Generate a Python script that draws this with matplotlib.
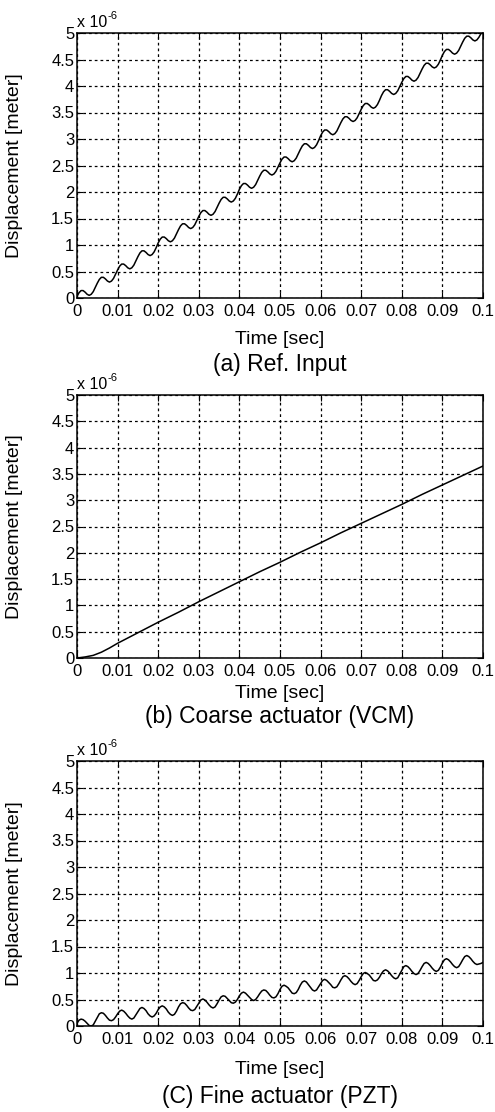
import numpy as np
import matplotlib
matplotlib.use("Agg")
import matplotlib.pyplot as plt

plt.rcParams['font.family'] = ['Liberation Sans', 'DejaVu Sans']

# ---------------- data (displacement in units of 1e-6 m) ----------------
time_s = np.linspace(0.0, 0.1, 201)   # sample times, 0.5 ms spacing

ref_input = [
    0.03, 0.10, 0.14, 0.14, 0.11, 0.07, 0.05, 0.07, 0.12, 0.20,
    0.28, 0.35, 0.39, 0.39, 0.36, 0.32, 0.30, 0.32, 0.37, 0.45,
    0.53, 0.60, 0.64, 0.64, 0.61, 0.57, 0.55, 0.57, 0.62, 0.70,
    0.78, 0.85, 0.89, 0.89, 0.86, 0.82, 0.80, 0.82, 0.87, 0.95,
    1.04, 1.11, 1.15, 1.15, 1.12, 1.08, 1.06, 1.08, 1.13, 1.21,
    1.29, 1.36, 1.40, 1.40, 1.37, 1.33, 1.31, 1.33, 1.38, 1.46,
    1.54, 1.61, 1.65, 1.65, 1.62, 1.58, 1.56, 1.58, 1.63, 1.71,
    1.79, 1.86, 1.90, 1.90, 1.87, 1.83, 1.81, 1.83, 1.88, 1.96,
    2.05, 2.12, 2.16, 2.16, 2.13, 2.09, 2.07, 2.09, 2.14, 2.22,
    2.30, 2.37, 2.41, 2.41, 2.38, 2.34, 2.32, 2.34, 2.39, 2.47,
    2.55, 2.62, 2.66, 2.66, 2.63, 2.59, 2.57, 2.59, 2.64, 2.72,
    2.80, 2.87, 2.91, 2.91, 2.88, 2.84, 2.82, 2.84, 2.89, 2.97,
    3.06, 3.13, 3.17, 3.17, 3.14, 3.10, 3.08, 3.10, 3.15, 3.23,
    3.31, 3.38, 3.42, 3.42, 3.39, 3.35, 3.33, 3.35, 3.40, 3.48,
    3.56, 3.63, 3.67, 3.67, 3.64, 3.60, 3.58, 3.60, 3.65, 3.73,
    3.82, 3.89, 3.93, 3.93, 3.90, 3.86, 3.84, 3.86, 3.91, 3.99,
    4.07, 4.14, 4.18, 4.18, 4.15, 4.11, 4.09, 4.11, 4.16, 4.24,
    4.32, 4.39, 4.43, 4.43, 4.40, 4.36, 4.34, 4.36, 4.41, 4.49,
    4.58, 4.65, 4.69, 4.69, 4.66, 4.62, 4.60, 4.62, 4.67, 4.75,
    4.83, 4.90, 4.94, 4.94, 4.91, 4.87, 4.85, 4.87, 4.92, 4.99,
    5.02,
]

vcm_time = [0.0, 0.002, 0.004, 0.006, 0.008, 0.01, 0.015, 0.02, 0.025, 0.03,
            0.035, 0.04, 0.045, 0.05, 0.055, 0.06, 0.065, 0.07, 0.075, 0.08,
            0.085, 0.09, 0.095, 0.1]
vcm_disp = [0.0, 0.02, 0.05, 0.11, 0.19, 0.28, 0.48, 0.68, 0.87, 1.07,
            1.26, 1.45, 1.64, 1.82, 2.01, 2.19, 2.38, 2.56, 2.74, 2.92,
            3.11, 3.29, 3.47, 3.65]

pzt_disp = [
    0.05, 0.11, 0.13, 0.12, 0.09, 0.05, 0.01, 0.00, 0.02, 0.09,
    0.16, 0.23, 0.25, 0.24, 0.20, 0.15, 0.11, 0.10, 0.12, 0.17,
    0.23, 0.28, 0.30, 0.28, 0.24, 0.19, 0.15, 0.13, 0.15, 0.21,
    0.27, 0.33, 0.35, 0.33, 0.29, 0.23, 0.19, 0.17, 0.19, 0.24,
    0.31, 0.36, 0.38, 0.36, 0.32, 0.26, 0.22, 0.20, 0.22, 0.28,
    0.36, 0.42, 0.44, 0.43, 0.39, 0.34, 0.30, 0.29, 0.31, 0.37,
    0.43, 0.49, 0.51, 0.49, 0.45, 0.40, 0.36, 0.34, 0.36, 0.42,
    0.49, 0.55, 0.57, 0.56, 0.52, 0.48, 0.44, 0.43, 0.45, 0.50,
    0.57, 0.62, 0.64, 0.62, 0.58, 0.54, 0.50, 0.48, 0.50, 0.55,
    0.61, 0.66, 0.68, 0.67, 0.63, 0.58, 0.54, 0.53, 0.55, 0.61,
    0.69, 0.75, 0.77, 0.75, 0.72, 0.67, 0.62, 0.61, 0.63, 0.69,
    0.77, 0.83, 0.85, 0.83, 0.78, 0.73, 0.68, 0.66, 0.68, 0.74,
    0.80, 0.86, 0.88, 0.86, 0.82, 0.78, 0.73, 0.72, 0.74, 0.80,
    0.87, 0.93, 0.95, 0.93, 0.89, 0.84, 0.80, 0.78, 0.80, 0.86,
    0.93, 0.99, 1.01, 0.99, 0.96, 0.91, 0.86, 0.85, 0.87, 0.92,
    0.99, 1.04, 1.06, 1.04, 1.00, 0.95, 0.91, 0.89, 0.91, 0.98,
    1.05, 1.12, 1.14, 1.12, 1.08, 1.03, 0.99, 0.97, 0.99, 1.05,
    1.12, 1.18, 1.20, 1.18, 1.14, 1.09, 1.05, 1.03, 1.05, 1.11,
    1.19, 1.25, 1.27, 1.25, 1.21, 1.16, 1.12, 1.10, 1.12, 1.18,
    1.25, 1.31, 1.33, 1.31, 1.27, 1.22, 1.18, 1.16, 1.17, 1.18,
    1.20,
]

x_ticks = [0, 0.01, 0.02, 0.03, 0.04, 0.05, 0.06, 0.07, 0.08, 0.09, 0.1]
x_tick_labels = ['0', '0.01', '0.02', '0.03', '0.04', '0.05', '0.06',
                 '0.07', '0.08', '0.09', '0.1']
y_ticks = [0, 0.5, 1, 1.5, 2, 2.5, 3, 3.5, 4, 4.5, 5]
y_tick_labels = ['0', '0.5', '1', '1.5', '2', '2.5', '3', '3.5', '4', '4.5', '5']

captions = ['(a) Ref. Input', '(b) Coarse actuator (VCM)', '(C) Fine actuator (PZT)']

# ---------------- figure ----------------
W, H = 495, 1112
fig = plt.figure(figsize=(W / 100, H / 100), dpi=100)
fig.patch.set_facecolor('white')

# axes pixel boxes: (top, bottom)
boxes = [(33, 298), (395, 658), (761, 1026)]
left_px, right_px = 77, 483
xlabel_y = [340, 693, 1069]
caption_y = [364, 716, 1097]

series = [
    (time_s, ref_input),
    (vcm_time, vcm_disp),
    (time_s, pzt_disp),
]

for i, ((top, bot), (tx, ty)) in enumerate(zip(boxes, series)):
    ax = fig.add_axes([left_px / W, 1 - bot / H, (right_px - left_px) / W, (bot - top) / H])
    ax.plot(tx, ty, color='black', linewidth=1.1)
    ax.set_xlim(0, 0.1)
    ax.set_ylim(0, 5)
    ax.set_xticks(x_ticks)
    ax.set_xticklabels(x_tick_labels)
    ax.set_yticks(y_ticks)
    ax.set_yticklabels(y_tick_labels)
    ax.tick_params(direction='in', top=True, right=True, length=4, width=0.8,
                   labelsize=12, colors='black')
    ax.tick_params(axis='y', pad=2.0)
    ax.tick_params(axis='x', pad=4)
    ax.grid(True, color='black', linestyle=(0, (2.2, 2.4)), linewidth=0.9)
    for sp in ax.spines.values():
        sp.set_linewidth(1.1)
        sp.set_color('black')
    # MATLAB-like exponent label
    ax.text(0.0, 1.012, 'x 10', transform=ax.transAxes, ha='left', va='bottom',
            fontsize=11.5)
    ax.text(0.074, 1.047, '-6', transform=ax.transAxes, ha='left', va='bottom',
            fontsize=8)
    yc = 1 - (top + bot) / 2 / H
    fig.text(15 / W, yc, 'Displacement [meter]', rotation=90, ha='center',
             va='center', fontsize=14)
    fig.text((left_px + right_px) / 2 / W, 1 - xlabel_y[i] / H, 'Time [sec]',
             ha='center', va='center', fontsize=14)
    fig.text((left_px + right_px) / 2 / W, 1 - caption_y[i] / H, captions[i],
             ha='center', va='center', fontsize=16.5)

fig.savefig('out.png', dpi=100, facecolor='white')
